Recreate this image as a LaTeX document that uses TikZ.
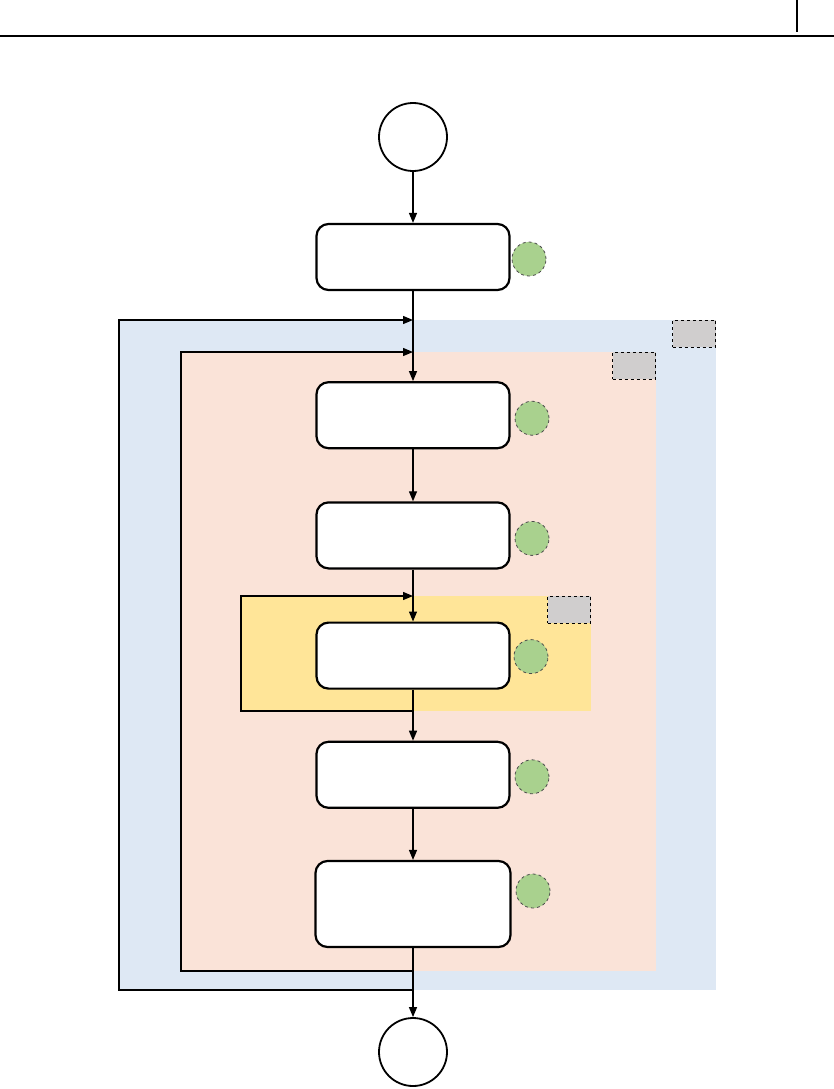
\documentclass[tikz,border=0pt]{standalone}
\usepackage{tikz}
\usetikzlibrary{positioning, arrows.meta}
\definecolor{loopblue}{HTML}{DEE8F4}
\definecolor{looporange}{HTML}{FAE3D8}
\definecolor{loopyellow}{HTML}{FFE598}
\definecolor{markgreen}{HTML}{A9D18E}
\definecolor{taggray}{HTML}{D0CECE}

\begin{document}
\begin{tikzpicture}[
  x=1pt, y=1pt,
  stepbox/.style={draw, line width=2.2pt, rounded corners=12pt, fill=white, minimum width=193pt, minimum height=66pt},
  terminal/.style={draw, circle, line width=1.8pt, minimum size=68pt, inner sep=0pt},
  marker/.style={circle, fill=markgreen, draw=black!70, dashed, line width=0.8pt, minimum size=34pt, inner sep=0pt},
  tag/.style={draw, dashed, fill=taggray, line width=0.9pt, minimum width=43pt, minimum height=27pt, inner sep=0pt, anchor=north east},
  flow/.style={line width=1.3pt},
  node distance=52pt,
  ->, >={Triangle[length=10pt,width=8pt]}
]
\useasboundingbox (0,0) rectangle (834,-1089);

% Header rule
\draw[-, line width=1.3pt] (0,-36) -- (834,-36);
\draw[-, line width=1.3pt] (797,0) -- (797,-32);

% Loop areas
\fill[loopblue] (119,-320) rectangle (716,-990);
\fill[looporange] (181,-352) rectangle (656,-971);
\fill[loopyellow] (241,-596) rectangle (591,-711);

\node[tag] (outertag) at (716,-320) {};
\node[tag] (middletag) at (656,-352) {};
\node[tag] (innertag) at (591,-596) {};

% Steps
\node[terminal] (start) at (413,-137) {};
\node[stepbox, below=51pt of start] (init) {};
\node[stepbox, below=90pt of init] (stepa) {};
\node[stepbox, below=of stepa] (stepb) {};
\node[stepbox, below=of stepb] (stepc) {};
\node[stepbox, below=51pt of stepc] (stepd) {};
\node[stepbox, below=51pt of stepd, minimum height=86pt, minimum width=195pt] (stepe) {};
\node[terminal, below=69pt of stepe] (stop) {};

% Markers
\node[marker, right=1pt of init, yshift=-2pt] (markinit) {};
\node[marker, right=4pt of stepa, yshift=-3pt] (marka) {};
\node[marker, right=4pt of stepb, yshift=-3pt] (markb) {};
\node[marker, right=3pt of stepc, yshift=-1pt] (markc) {};
\node[marker, right=4pt of stepd, yshift=-2pt] (markd) {};
\node[marker, right=4pt of stepe, yshift=13pt] (marke) {};

% Loop entry and exit points
\coordinate (outerin) at (413,-320);
\coordinate (outerout) at (413,-990);
\coordinate (outercorner) at (119,-320);
\coordinate (middlein) at (413,-352);
\coordinate (middleout) at (413,-971);
\coordinate (middlecorner) at (181,-352);
\coordinate (innerin) at (413,-596);
\coordinate (innerout) at (413,-711);
\coordinate (innercorner) at (241,-596);

% Connections
\draw[flow] (start) -- (init);
\draw[flow] (init) -- (stepa);
\draw[flow] (stepa) -- (stepb);
\draw[flow] (stepb) -- (stepc);
\draw[flow] (stepc) -- (stepd);
\draw[flow] (stepd) -- (stepe);
\draw[flow] (stepe) -- (stop);

\draw[flow] (outerout) -| (outercorner) -- (outerin);
\draw[flow] (middleout) -| (middlecorner) -- (middlein);
\draw[flow] (innerout) -| (innercorner) -- (innerin);

\end{tikzpicture}
\end{document}
